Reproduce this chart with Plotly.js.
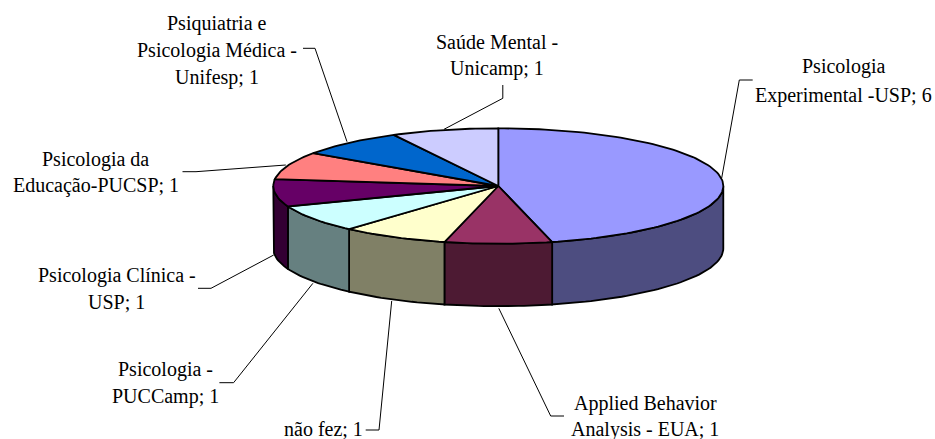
<!DOCTYPE html>
<html>
<head>
<meta charset="utf-8">
<script src="https://cdn.plot.ly/plotly-3.0.1.min.js"></script>
<style>html,body{margin:0;padding:0;background:#fff}#c{width:935px;height:439px}</style>
</head>
<body>
<div id="c"></div>
<script>
const categories = ["Psicologia Experimental -USP","Applied Behavior Analysis - EUA","não fez","Psicologia - PUCCamp","Psicologia Clínica - USP","Psicologia da Educação-PUCSP","Psiquiatria e Psicologia Médica - Unifesp","Saúde Mental - Unicamp"];
const values = [6,1,1,1,1,1,1,1];
const topColors = ["#9999FF","#993366","#FFFFCC","#CCFFFF","#660066","#FF8080","#0066CC","#CCCCFF"];
const sideColors = ["#4D4D80","#4D1A33","#808066","#668080","#330033","#804040","#003366","#666680"];

// label lines: text, one entry per slice
const labelLines = [
  ["Psicologia","Experimental -USP; 6"],
  ["Applied Behavior","Analysis - EUA; 1"],
  ["não fez; 1"],
  ["Psicologia -","PUCCamp; 1"],
  ["Psicologia Clínica -","USP; 1"],
  ["Psicologia da","Educação-PUCSP; 1"],
  ["Psiquiatria e","Psicologia Médica -","Unifesp; 1"],
  ["Saúde Mental -","Unicamp; 1"]
];

// layout constants (pixel space of the page)
const CX=498.3, CY=186, RX=225, RY=57.7, DEPTH=62.5;
const labelPos = [
  [843.5,[66.5,95]],
  [645,[403,429]],
  [323,[429]],
  [165,[369,396]],
  [116.5,[275,302]],
  [95.5,[159,185.5]],
  [217,[23,50,77]],
  [496.5,[42,68.5]]
];
const leaders = [
  [[721.7,178],[739.3,80],[752.7,80]],
  [[498.8,308.3],[550.7,416],[564,416]],
  [[391.7,301],[379,430],[365.7,430]],
  [[312.9,283.3],[233.6,382.7],[219.4,382.7]],
  [[273.7,255],[211,288.3],[198,288.3]],
  [[285.8,165],[196,171.7],[182.5,171.7]],
  [[347,141.7],[315,48.3],[303,48.3]],
  [[444,129.3],[502.8,98.3],[502.8,85]]
];

const total = values.reduce((a,b)=>a+b,0);
const px = d => CX + RX*Math.sin(d*Math.PI/180);
const py = d => CY - RY*Math.cos(d*Math.PI/180);
function arc(a,b){const pts=[];const n=Math.max(2,Math.ceil((b-a)/1.5));for(let i=0;i<=n;i++){pts.push(a+(b-a)*i/n);}return pts;}

const traces=[];
let start=0;
const slices=values.map(v=>{const s={a:start,b:start+v/total*360};start=s.b;return s;});

// side walls (only the front half of the rim is visible)
slices.forEach((s,i)=>{
  const a=Math.max(s.a,90), b=Math.min(s.b,270);
  if(b<=a) return;
  const t=arc(a,b), x=[],y=[];
  t.forEach(d=>{x.push(px(d));y.push(py(d));});
  t.slice().reverse().forEach(d=>{x.push(px(d));y.push(py(d)+DEPTH);});
  x.push(x[0]);y.push(y[0]);
  traces.push({type:"scatter",mode:"lines",x,y,fill:"toself",fillcolor:sideColors[i],name:categories[i],
    line:{color:"#000",width:1.8},hoverinfo:"skip",showlegend:false});
});
// top faces
slices.forEach((s,i)=>{
  const t=arc(s.a,s.b), x=[CX],y=[CY];
  t.forEach(d=>{x.push(px(d));y.push(py(d));});
  x.push(CX);y.push(CY);
  traces.push({type:"scatter",mode:"lines",x,y,fill:"toself",fillcolor:topColors[i],name:categories[i],
    line:{color:"#000",width:1.8},hoverinfo:"skip",showlegend:false});
});

const annotations=[];
labelLines.forEach((lines,i)=>{
  lines.forEach((txt,j)=>{
    annotations.push({x:labelPos[i][0],y:labelPos[i][1][j],xref:"x",yref:"y",text:txt,showarrow:false,
      xanchor:"center",yanchor:"middle",font:{family:"'Liberation Serif','Times New Roman',serif",size:20,color:"#000"}});
  });
});
const shapes=leaders.map(p=>({type:"path",xref:"x",yref:"y",
  path:"M"+p.map(q=>q[0]+","+q[1]).join(" L"),line:{color:"#000",width:1},fillcolor:"rgba(0,0,0,0)"}));

Plotly.newPlot("c",traces,{
  width:935,height:439,margin:{l:0,r:0,t:0,b:0},
  paper_bgcolor:"#fff",plot_bgcolor:"#fff",showlegend:false,
  xaxis:{range:[0,935],visible:false,fixedrange:true},
  yaxis:{range:[439,0],visible:false,fixedrange:true},
  annotations,shapes
},{displayModeBar:false,staticPlot:true});
</script>
</body>
</html>
